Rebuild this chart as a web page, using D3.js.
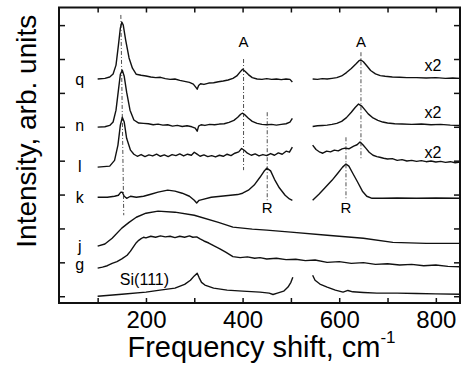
<!DOCTYPE html>
<html>
<head>
<meta charset="utf-8">
<script src="https://cdn.jsdelivr.net/npm/d3@7"></script>
<style>
body { margin: 0; background: #fff; }
text { font-family: "Liberation Sans", Arial, sans-serif; fill: #000; }
</style>
</head>
<body>
<div id="chart"></div>
<script>
// Raman spectra, [shift cm-1, intensity arb. units], null = notch gap
let spec_q = [[100,6.41],[115,6.43],[125,6.47],[132,6.56],[138,6.82],[143,7.41],[147,7.91],[150,8.09],[153,8.00],[158,7.56],[165,7.03],[172,6.73],[180,6.55],[190,6.52],[200,6.50],[210,6.47],[220,6.45],[230,6.46],[240,6.42],[250,6.40],[260,6.41],[270,6.37],[280,6.34],[290,6.31],[298,6.26],[303,6.17],[306,6.11],[309,6.22],[313,6.27],[320,6.25],[330,6.29],[340,6.30],[350,6.33],[360,6.35],[370,6.38],[380,6.43],[388,6.50],[395,6.62],[400,6.70],[405,6.64],[412,6.54],[420,6.45],[430,6.41],[440,6.40],[450,6.42],[460,6.40],[470,6.41],[480,6.39],[490,6.41],[498,6.40],[503,6.32],[520,null],
    [545,6.41],[555,6.40],[565,6.42],[575,6.41],[585,6.43],[595,6.45],[605,6.50],[615,6.60],[625,6.72],[635,6.86],[641,6.95],[645,6.97],[650,6.92],[657,6.80],[665,6.66],[675,6.56],[685,6.51],[695,6.49],[710,6.47],[725,6.46],[740,6.45],[760,6.45],[780,6.44],[800,6.45],[820,6.43],[835,6.44],[850,6.43]];
let spec_n = [[100,4.99],[115,5.00],[125,5.04],[132,5.14],[138,5.49],[143,6.08],[147,6.55],[151,6.67],[155,6.49],[160,6.02],[167,5.49],[175,5.20],[185,5.11],[195,5.10],[205,5.09],[215,5.06],[225,5.08],[235,5.05],[245,5.06],[255,5.02],[265,5.04],[275,5.01],[285,5.03],[295,5.00],[302,4.96],[306,4.87],[309,5.02],[314,5.06],[322,5.04],[332,5.07],[342,5.06],[352,5.08],[362,5.09],[372,5.13],[382,5.19],[390,5.28],[396,5.37],[400,5.40],[405,5.35],[412,5.25],[420,5.16],[430,5.10],[440,5.07],[450,5.06],[460,5.07],[470,5.05],[480,5.07],[490,5.09],[498,5.14],[503,5.25],[520,null],
    [545,5.01],[555,5.03],[565,5.04],[575,5.05],[585,5.07],[595,5.10],[605,5.16],[615,5.27],[625,5.43],[633,5.57],[640,5.67],[646,5.62],[652,5.52],[660,5.38],[670,5.26],[680,5.19],[690,5.14],[700,5.11],[715,5.09],[730,5.08],[750,5.07],[770,5.08],[790,5.06],[810,5.07],[830,5.05],[850,5.04]];
let spec_l = [[100,3.81],[125,3.84],[135,4.01],[142,4.46],[147,5.05],[151,5.28],[155,5.14],[160,4.66],[168,4.31],[175,4.19],[182,4.13],[190,4.18],[198,4.12],[206,4.17],[214,4.14],[222,4.19],[230,4.13],[238,4.17],[246,4.12],[254,4.18],[262,4.15],[270,4.20],[278,4.14],[286,4.19],[294,4.16],[300,4.25],[305,4.20],[312,4.13],[320,4.17],[328,4.12],[336,4.15],[344,4.11],[352,4.16],[360,4.13],[368,4.19],[376,4.15],[384,4.22],[392,4.26],[398,4.36],[404,4.30],[410,4.22],[418,4.16],[426,4.20],[434,4.14],[442,4.18],[450,4.15],[458,4.21],[466,4.16],[474,4.23],[482,4.19],[490,4.28],[497,4.25],[503,4.40],[520,null],
    [545,4.46],[552,4.33],[560,4.25],[566,4.22],[574,4.28],[582,4.26],[590,4.31],[598,4.29],[606,4.35],[612,4.37],[620,4.35],[630,4.43],[637,4.47],[643,4.55],[649,4.47],[655,4.37],[662,4.25],[670,4.16],[678,4.12],[684,4.10],[692,4.07],[700,4.05],[710,4.06],[720,4.01],[730,4.03],[740,3.99],[750,4.01],[760,3.98],[770,4.00],[780,3.97],[790,3.99],[800,3.96],[810,3.98],[820,3.95],[830,3.97],[840,3.94],[850,3.96]];
let spec_k = [[100,2.92],[120,2.92],[135,2.95],[143,2.98],[148,3.07],[151,3.07],[155,2.95],[160,2.89],[168,2.95],[180,2.92],[195,2.95],[210,3.01],[225,3.07],[245,3.13],[260,3.10],[275,3.04],[290,2.95],[300,2.83],[305,2.75],[310,2.83],[318,2.86],[335,2.92],[355,2.95],[375,2.98],[390,3.00],[400,3.04],[412,3.13],[424,3.28],[436,3.51],[444,3.68],[450,3.78],[458,3.70],[466,3.45],[476,3.20],[488,2.98],[497,2.87],[503,2.83],[520,null],
    [545,2.83],[558,3.01],[572,3.22],[585,3.42],[597,3.63],[607,3.81],[614,3.90],[620,3.84],[628,3.63],[638,3.37],[648,3.10],[657,2.95],[668,2.89],[690,2.89],[720,2.90],[760,2.89],[800,2.90],[850,2.89]];
let spec_j = [[100,1.48],[115,1.54],[130,1.71],[150,2.01],[165,2.18],[180,2.33],[200,2.45],[225,2.51],[260,2.48],[300,2.39],[350,2.18],[380,2.04],[420,1.98],[450,1.95],[500,1.89],[575,1.80],[650,1.71],[711,1.59],[780,1.56],[850,1.56]];
let spec_g = [[100,0.83],[110,0.86],[120,0.90],[130,0.97],[140,1.02],[150,1.10],[161,1.21],[168,1.33],[175,1.48],[180,1.58],[185,1.65],[190,1.70],[195,1.74],[200,1.72],[210,1.77],[220,1.74],[230,1.78],[240,1.75],[250,1.77],[260,1.73],[270,1.77],[280,1.74],[290,1.78],[297,1.74],[305,1.75],[312,1.69],[320,1.63],[330,1.57],[340,1.49],[353,1.40],[365,1.30],[380,1.17],[395,1.14],[410,1.16],[425,1.12],[436,1.14],[450,1.10],[470,1.12],[490,1.08],[510,1.09],[530,1.05],[550,1.07],[575,1.00],[600,1.02],[625,0.97],[650,0.99],[675,0.94],[700,0.96],[725,0.92],[750,0.94],[775,0.90],[800,0.92],[825,0.88],[850,0.87]];
let spec_si = [[100,0.00],[150,0.06],[200,0.12],[229,0.18],[260,0.24],[280,0.35],[292,0.47],[300,0.60],[306,0.68],[310,0.55],[315,0.41],[322,0.33],[340,0.24],[368,0.18],[400,0.15],[436,0.12],[455,0.09],[463,0.05],[472,0.09],[485,0.15],[494,0.27],[500,0.41],[504,0.56],[520,null],
    [545,0.62],[550,0.47],[560,0.36],[575,0.27],[592,0.18],[608,0.12],[618,0.17],[628,0.13],[650,0.11],[678,0.09],[720,0.09],[760,0.08],[800,0.07],[850,0.06]];

// sample labels at the left: [name, intensity of baseline]
let sample_labels = [["q",6.23],["n",4.87],["l",3.66],["k",2.75],["j",1.30],["g",0.77]];
// dash-dot guide lines: [x top, y top, x bottom, y bottom]
let guide_lines = [[148,8.30,154,2.39],[402,7.00,402,3.72],[645,7.20,645,4.07],[451,5.43,451,2.77],[614,4.69,614,2.83]];
// peak letters: [text, x, y]
let peak_labels = [["A",402,7.35],["A",645,7.35],["R",451,2.45],["R",614,2.45]];
let scale_labels = [["x2",794,6.64],["x2",794,5.25],["x2",794,4.07]];
let x_ticks = [100,200,300,400,500,600,700,800];
let y_ticks = [0,1,2,3,4,5,6,7,8];

let _default = {
    width: 461, height: 366,
    left: 59, right: 460, top: 7.5, bottom: 303,
    stroke: "#111"
};

let svg = d3.select("div#chart").append("svg")
    .attr("width", _default.width)
    .attr("height", _default.height);

let x = d3.scaleLinear().domain([20, 850]).range([_default.left, _default.right]);
let y = d3.scaleLinear().domain([-0.2, 8.52]).range([_default.bottom, _default.top]);

let styleAxis = g => {
    g.select(".domain").remove();
    g.selectAll(".tick line").attr("stroke", _default.stroke).attr("stroke-width", 1.5);
    g.selectAll("text").attr("font-family", "Liberation Sans, Arial, sans-serif").attr("fill", "#000");
};

svg.append("g")
    .attr("transform", `translate(0,${_default.bottom})`)
    .call(d3.axisBottom(x).tickValues(x_ticks).tickSize(-5).tickPadding(8)
        .tickFormat(d => d % 200 === 0 ? d : ""))
    .call(styleAxis)
    .selectAll("text").attr("font-size", 24);
svg.append("g")
    .attr("transform", `translate(0,${_default.top})`)
    .call(d3.axisTop(x).tickValues(x_ticks).tickSize(-5).tickFormat(""))
    .call(styleAxis);
svg.append("g")
    .attr("transform", `translate(${_default.left},0)`)
    .call(d3.axisLeft(y).tickValues(y_ticks).tickSize(-6).tickFormat(""))
    .call(styleAxis);
svg.append("g")
    .attr("transform", `translate(${_default.right},0)`)
    .call(d3.axisRight(y).tickValues(y_ticks).tickSize(-6).tickFormat(""))
    .call(styleAxis);

svg.append("rect")
    .attr("x", _default.left).attr("y", _default.top)
    .attr("width", _default.right - _default.left)
    .attr("height", _default.bottom - _default.top)
    .attr("fill", "none").attr("stroke", _default.stroke).attr("stroke-width", 2);

let line = d3.line()
    .defined(d => d[1] !== null)
    .x(d => x(d[0]))
    .y(d => y(d[1]));

let spectra = [spec_q, spec_n, spec_l, spec_k, spec_j, spec_g, spec_si];
svg.append("g").selectAll("path").data(spectra).enter().append("path")
    .attr("d", line)
    .attr("fill", "none")
    .attr("stroke", _default.stroke)
    .attr("stroke-width", 1.4)
    .attr("stroke-linejoin", "round");

svg.append("g").selectAll("line").data(guide_lines).enter().append("line")
    .attr("x1", d => x(d[0])).attr("y1", d => y(d[1]))
    .attr("x2", d => x(d[2])).attr("y2", d => y(d[3]))
    .attr("stroke", "#222").attr("stroke-width", 0.8)
    .attr("stroke-dasharray", "4,2,1,2");

svg.append("g").selectAll("text").data(sample_labels).enter().append("text")
    .attr("x", x(63)).attr("y", d => y(d[1]))
    .attr("text-anchor", "middle")
    .attr("font-size", 16)
    .text(d => d[0]);

svg.append("g").selectAll("text").data(peak_labels).enter().append("text")
    .attr("x", d => x(d[1])).attr("y", d => y(d[2]))
    .attr("text-anchor", "middle")
    .attr("font-size", 15)
    .text(d => d[0]);

svg.append("g").selectAll("text").data(scale_labels).enter().append("text")
    .attr("x", d => x(d[1])).attr("y", d => y(d[2]))
    .attr("text-anchor", "middle")
    .attr("font-size", 16)
    .text(d => d[0]);

svg.append("text")
    .attr("x", x(146)).attr("y", y(0.32))
    .attr("font-size", 16)
    .text("Si(111)");

// axis titles
let xt = svg.append("text")
    .attr("x", (_default.left + _default.right) / 2 + 2)
    .attr("y", 357)
    .attr("text-anchor", "middle")
    .attr("font-size", 29);
xt.append("tspan").text("Frequency shift, cm");
xt.append("tspan").attr("font-size", 17).attr("dy", -14).text("-1");

svg.append("text")
    .attr("transform", `translate(36,${(_default.top + _default.bottom) / 2 - 24}) rotate(-90)`)
    .attr("text-anchor", "middle")
    .attr("font-size", 28)
    .text("Intensity, arb. units");
</script>
</body>
</html>
